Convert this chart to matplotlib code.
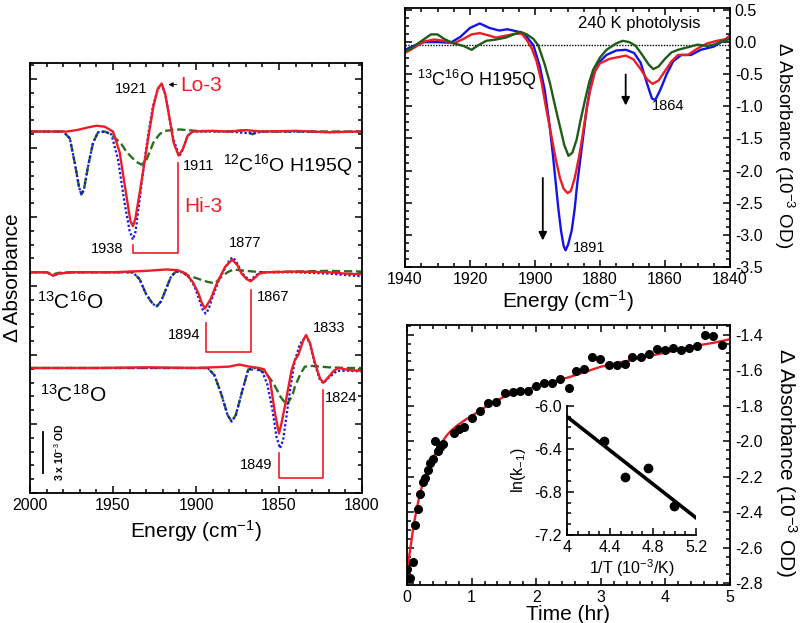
import matplotlib.pyplot as plt
from matplotlib.ticker import MultipleLocator, NullFormatter

plt.rcParams['font.family'] = ['Liberation Sans', 'DejaVu Sans']
plt.rcParams['mathtext.fontset'] = 'custom'
plt.rcParams['mathtext.rm'] = 'Liberation Sans'
plt.rcParams['mathtext.it'] = 'Liberation Sans:italic'
plt.rcParams['mathtext.bf'] = 'Liberation Sans:bold'
plt.rcParams['axes.unicode_minus'] = False
plt.rcParams['axes.linewidth'] = 1.3

RED = '#ee1c24'
BLUE = '#1414e6'
GREEN = '#2b6f1e'
DKGREEN = '#1f5c18'

# ---- left panel: FTIR difference spectra (10^-3 OD, relative to each baseline)
# 12C16O H195Q
e12_red = [2000, 1978, 1972, 1965, 1960, 1955, 1950, 1946, 1942, 1939.5, 1938, 1936.5, 1934, 1931.7,
           1928.7, 1925.7, 1923, 1920.7, 1918.5, 1916, 1913.5, 1910.5, 1908, 1905, 1902, 1890, 1880,
           1870, 1860, 1840, 1820, 1800]
a12_red = [0, 0, 0.1, 0.3, 0.42, 0.35, 0.0, -1.5, -4.6, -6.5, -6.86, -6.3, -4.5, -2.75,
           -0.4, 1.8, 3.1, 3.48, 2.7, 1.0, -0.8, -1.74, -1.3, -0.3, 0.0, 0.05, 0.0,
           0.1, 0.0, 0.05, -0.05, 0]
e12_blue = [2000, 1980, 1976, 1973, 1970.5, 1969, 1967.5, 1965, 1962, 1959, 1955, 1951, 1947, 1943,
            1940, 1938, 1936.5, 1934, 1931.5, 1928.5, 1926, 1923, 1920.7, 1918.5, 1916, 1913.5, 1910,
            1908, 1905, 1902, 1880, 1866, 1860, 1840, 1820, 1800]
a12_blue = [0, 0, -0.5, -2.3, -4.0, -4.57, -4.2, -2.5, -0.8, -0.05, 0, -0.2, -2.0, -5.2,
            -7.2, -7.83, -7.3, -5.0, -2.5, 0.0, 1.8, 3.1, 3.4, 2.7, 1.0, -0.6, -1.79,
            -1.3, -0.3, 0, 0, -0.15, 0, 0, -0.05, 0]
e12_green = [2000, 1980, 1976, 1973, 1970.5, 1969, 1967.5, 1965, 1962, 1959, 1955, 1951, 1945, 1941.7,
             1936, 1932.7, 1930, 1925.7, 1922, 1919, 1910, 1900, 1880, 1870, 1866, 1862, 1840, 1800]
a12_green = [0, 0, -0.5, -2.3, -4.0, -4.57, -4.2, -2.5, -0.8, -0.05, 0, -0.2, -0.9, -1.5,
             -2.2, -2.4, -2.1, -0.8, -0.2, 0.05, 0.15, 0.05, 0.0, 0.1, -0.2, 0, 0, 0]

# 13C16O
e13_red = [2000, 1990, 1986, 1983, 1975, 1950, 1930, 1918, 1911, 1906, 1902, 1898.6, 1896.6, 1894.6,
           1891, 1887.5, 1882.5, 1878.2, 1875, 1872.5, 1869.5, 1867, 1864.5, 1862, 1858, 1840, 1820,
           1810, 1800]
a13_red = [0, 0, -0.25, -0.1, 0, 0.0, 0.1, 0.2, 0.15, -0.1, -0.7, -1.5, -2.2, -2.63,
           -1.9, -0.82, 0.38, 0.92, 0.5, -0.1, -0.5, -0.65, -0.4, -0.1, 0, 0.05, 0.0,
           -0.1, -0.15]
e13_blue = [2000, 1990, 1986, 1983, 1975, 1945, 1938, 1934, 1930, 1926, 1923.5, 1921, 1918, 1915,
            1912, 1908, 1904, 1901, 1898, 1896, 1894.2, 1892.5, 1890, 1886, 1882, 1879.5, 1877.5,
            1875.5, 1872, 1869, 1867.5, 1865, 1861.5, 1840, 1820, 1810, 1800]
a13_blue = [0, 0, -0.25, -0.1, 0, 0, 0, -0.5, -1.6, -2.3, -2.46, -2.1, -1.2, -0.3,
            0.05, 0.0, -0.4, -1.0, -2.0, -2.7, -3.0, -2.7, -1.8, -0.5, 0.4, 0.95, 1.07,
            0.7, -0.1, -0.45, -0.58, -0.35, 0.0, 0.0, -0.1, -0.2, -0.3]
e13_green = [2000, 1990, 1986, 1983, 1975, 1945, 1938, 1934, 1930, 1926, 1923.5, 1921, 1918, 1915,
             1912, 1908, 1905.6, 1898, 1893, 1888.5, 1884.5, 1881, 1877.5, 1870, 1860, 1840, 1820, 1800]
a13_green = [0, 0, -0.15, -0.05, 0, 0, 0, -0.5, -1.6, -2.3, -2.46, -2.1, -1.2, -0.3,
             0.05, 0.0, -0.2, -0.5, -0.7, -0.8, -0.3, 0.0, 0.2, 0.1, 0.0, 0.05, 0.1, 0.05]

# 13C18O
e18_red = [2000, 1960, 1930, 1900, 1890, 1880, 1874, 1868, 1862, 1859, 1855.4, 1852.4, 1850,
           1848.5, 1846.5, 1845.4, 1842.4, 1840.4, 1838.4, 1835.4, 1833.7, 1831.3, 1828.3, 1825.3,
           1823.3, 1820.5, 1817, 1814, 1808, 1800]
a18_red = [0, 0, 0.05, 0.0, 0.05, 0.1, 0.25, 0.1, 0.0, -0.1, -0.87, -3.3, -4.74,
           -4.0, -2.8, -2.08, -0.15, 0.58, 0.94, 2.0, 2.39, 1.8, 0.34, -0.75,
           -1.07, -0.7, -0.2, 0.0, -0.15, -0.2]
e18_blue = [2000, 1960, 1900, 1893, 1889, 1885, 1881, 1878.5, 1876, 1872, 1868.5, 1864, 1860, 1857,
            1854, 1851.5, 1849.4, 1847.5, 1845.5, 1843, 1840.5, 1837.5, 1833.7, 1831.5, 1828.5,
            1825.5, 1823.3, 1820, 1815, 1808, 1800]
a18_blue = [0, 0, 0, 0.0, -0.5, -1.8, -3.4, -3.89, -3.4, -1.6, -0.1, 0.0, -0.3, -1.2,
            -3.0, -5.0, -5.82, -5.2, -3.5, -1.3, 0.5, 1.7, 2.32, 1.8, 0.3,
            -0.8, -1.11, -0.7, -0.2, -0.2, -0.25]
e18_green = [2000, 1960, 1900, 1893, 1889, 1885, 1881, 1878.5, 1876, 1872, 1868.5, 1861.4, 1857,
             1853.4, 1849, 1845.4, 1842, 1840.4, 1837, 1834.4, 1830, 1820, 1810, 1800]
a18_green = [0, 0, 0, 0, -0.5, -1.8, -3.4, -3.89, -3.4, -1.6, -0.1, -0.15, -0.5,
             -1.1, -2.1, -2.68, -2.0, -1.35, -0.4, 0.1, 0.15, 0.05, 0.0, 0.0]

# ---- top right: 240 K photolysis spectra (10^-3 OD)
e_blue = [1940, 1937, 1934, 1930, 1926, 1923, 1920, 1917, 1914, 1911, 1908.5, 1905, 1902.5, 1900.5,
          1898.5, 1897, 1895.5, 1894.5, 1893.6, 1892.8, 1892, 1891.2, 1890.6, 1889.8, 1888.7, 1887.8,
          1887, 1886, 1885, 1884, 1883, 1882, 1880, 1878, 1875, 1872, 1869.5, 1867.5, 1865.5, 1864,
          1863, 1861.5, 1859.5, 1857.5, 1855, 1852, 1849, 1845, 1842, 1840]
d_blue = [-0.12, -0.05, 0.0, 0.0, -0.01, 0.08, 0.22, 0.29, 0.22, 0.18, 0.2, 0.16, 0.08, -0.05,
          -0.38, -0.75, -1.3, -1.75, -2.2, -2.6, -2.93, -3.17, -3.24, -3.15, -2.93, -2.6,
          -2.2, -1.8, -1.4, -1.0, -0.7, -0.5, -0.3, -0.2, -0.13, -0.12, -0.17, -0.32, -0.65, -0.88,
          -0.9, -0.75, -0.5, -0.3, -0.2, -0.2, -0.12, -0.07, 0.02, 0.1]
e_red = [1940, 1937, 1934, 1931, 1928, 1925, 1922, 1919.5, 1917, 1914, 1912, 1909, 1906, 1904,
         1902.5, 1901, 1899.5, 1898, 1896.5, 1895, 1893.5, 1892.3, 1891.2, 1890, 1889, 1887.8, 1886.5,
         1885.5, 1884.3, 1883, 1881.5, 1880, 1877, 1874, 1872, 1869.7, 1867.5, 1865.5, 1863.8, 1862,
         1860, 1858, 1856, 1853, 1850, 1847, 1844, 1841, 1840]
d_red = [-0.17, -0.08, 0.01, 0.04, 0.02, -0.02, 0.05, 0.12, 0.14, 0.1, 0.07, 0.1, 0.13, 0.13,
         0.03, -0.1, -0.3, -0.62, -1.05, -1.45, -1.85, -2.12, -2.28, -2.35, -2.32, -2.12, -1.8,
         -1.5, -1.1, -0.75, -0.45, -0.33, -0.26, -0.23, -0.21, -0.27, -0.42, -0.58, -0.65, -0.6,
         -0.45, -0.3, -0.2, -0.2, -0.1, -0.02, 0.02, 0.05, 0.1]
e_green = [1940, 1938, 1936, 1934, 1932, 1930, 1928, 1925, 1922, 1919.5, 1917.5, 1915, 1912, 1909,
           1906.5, 1904.5, 1902.5, 1900.5, 1899, 1897, 1895.4, 1893.8, 1892.3, 1891, 1889.7, 1888.5,
           1887.2, 1886, 1884.6, 1883.3, 1882.1, 1880, 1878, 1875, 1873, 1871, 1869, 1867, 1865,
           1863.6, 1862, 1860, 1858, 1856, 1853, 1850, 1847, 1845, 1843, 1840]
d_green = [-0.14, -0.1, -0.02, 0.05, 0.12, 0.12, 0.05, -0.02, -0.06, -0.12, -0.05, 0.02, 0.04, 0.07,
           0.12, 0.16, 0.12, 0.05, -0.05, -0.35, -0.64, -1.0, -1.32, -1.6, -1.77, -1.72,
           -1.52, -1.22, -0.9, -0.62, -0.43, -0.24, -0.12, -0.02, 0.02, 0.0, -0.06, -0.2, -0.35,
           -0.42, -0.38, -0.26, -0.16, -0.12, -0.08, -0.04, -0.06, -0.04, 0.0, 0.05]

# ---- bottom right: recombination kinetics
time_hr = [0.0, 0.04, 0.087, 0.118, 0.165, 0.207, 0.249, 0.285, 0.32, 0.362, 0.398, 0.435, 0.476,
           0.518, 0.554, 0.725, 0.81, 0.88, 1.0, 1.13, 1.26, 1.384, 1.513, 1.64, 1.75, 1.87, 2.0,
           2.12, 2.25, 2.37, 2.50, 2.62, 2.74, 2.87, 2.99, 3.12, 3.25, 3.37, 3.49, 3.62, 3.75, 3.87,
           3.99, 4.12, 4.24, 4.37, 4.49, 4.62, 4.74, 4.87]
dabs = [-2.718, -2.769, -2.68, -2.473, -2.379, -2.298, -2.229, -2.206, -2.163, -2.121, -2.102,
        -1.999, -2.055, -2.035, -2.016, -1.955, -1.933, -1.918, -1.871, -1.828, -1.786, -1.779,
        -1.73, -1.72, -1.717, -1.717, -1.688, -1.669, -1.669, -1.649, -1.70, -1.604, -1.592,
        -1.528, -1.536, -1.57, -1.57, -1.566, -1.528, -1.528, -1.509, -1.481, -1.485, -1.477,
        -1.485, -1.472, -1.466, -1.402, -1.409, -1.457]
fit_t = [0.0, 0.02, 0.05, 0.1, 0.14, 0.18, 0.22, 0.26, 0.31, 0.36, 0.42, 0.47, 0.52, 0.57, 0.62,
         0.67, 0.73, 0.8, 0.9, 1.0, 1.12, 1.24, 1.37, 1.5, 1.63, 1.76, 2.0, 2.25, 2.5, 2.75, 3.0,
         3.25, 3.5, 3.75, 4.0, 4.25, 4.5, 4.75, 5.0]
fit_y = [-2.74, -2.68, -2.61, -2.48, -2.40, -2.33, -2.27, -2.22, -2.17, -2.12, -2.08, -2.05, -2.02,
         -1.99, -1.965, -1.945, -1.925, -1.905, -1.88, -1.857, -1.83, -1.80, -1.775, -1.75, -1.735,
         -1.72, -1.69, -1.665, -1.64, -1.61, -1.58, -1.56, -1.54, -1.52, -1.50, -1.48, -1.46,
         -1.445, -1.425]

# inset: Arrhenius plot
inv_T = [4.34, 4.54, 4.75, 4.995]
ln_k = [-6.33, -6.66, -6.58, -6.93]
arr_x = [4.0, 5.2]
arr_y = [-6.10, -7.04]

fig = plt.figure(figsize=(8, 6.23), dpi=100)


def ticks_in(ax):
    ax.tick_params(which='both', direction='in', top=True, right=True, width=1.1, labelsize=11.5)
    ax.tick_params(which='major', length=5)
    ax.tick_params(which='minor', length=2.8)


# ================= left panel
ax1 = fig.add_axes([0.0375, 0.2087, 0.415, 0.690])
stacks = [
    (26.2, e12_red, a12_red, e12_blue, a12_blue, e12_green, a12_green),
    (16.0, e13_red, a13_red, e13_blue, a13_blue, e13_green, a13_green),
    (9.06, e18_red, a18_red, e18_blue, a18_blue, e18_green, a18_green),
]
for base, er, ar, eb, ab, eg, ag in stacks:
    ax1.plot(eg, [base + v for v in ag], color=GREEN, ls=(0, (3.5, 1.6)), lw=1.7)
    ax1.plot(eb, [base + v for v in ab], color=BLUE, ls=(0, (1, 1)), lw=1.6)
    ax1.plot(er, [base + v for v in ar], color=RED, lw=1.7)

# red brackets
ax1.plot([1938, 1938, 1911, 1911], [17.97, 17.39, 17.39, 23.93], color=RED, lw=1.2)
ax1.plot([1894, 1894, 1866.9, 1866.9], [12.32, 10.22, 10.22, 14.7], color=RED, lw=1.2)
ax1.plot([1850, 1850, 1823.3, 1823.3], [2.9, 1.09, 1.09, 7.46], color=RED, lw=1.2)
# scale bar
ax1.plot([1992.2, 1992.2], [1.45, 4.42], color='black', lw=1.3)
ax1.text(1982.5, 2.95, '3 x 10$^{-3}$ OD', rotation=90, ha='center', va='center',
         fontsize=7.5, fontweight='bold')

ax1.text(1929.5, 29.3, '1921', ha='right', va='center', fontsize=10.5)
ax1.text(1909.6, 29.55, 'Lo-3', ha='left', va='center', fontsize=15, color=RED)
ax1.annotate('', xy=(1918.3, 29.6), xytext=(1910.0, 29.6),
             arrowprops=dict(arrowstyle='-|>', color='black', lw=0.6, mutation_scale=7))
ax1.text(1907.8, 23.7, '1911', ha='left', va='center', fontsize=10.5)
ax1.text(1906.8, 20.8, 'Hi-3', ha='left', va='center', fontsize=15, color=RED)
ax1.text(1944, 17.7, '1938', ha='right', va='center', fontsize=10.5)
ax1.text(1806, 23.8, '$^{12}$C$^{16}$O H195Q', ha='right', va='center', fontsize=14)
ax1.text(1870.2, 18.1, '1877', ha='center', va='center', fontsize=10.5)
ax1.text(1863.3, 14.2, '1867', ha='left', va='center', fontsize=10.5)
ax1.text(1897.6, 11.45, '1894', ha='right', va='center', fontsize=10.5)
ax1.text(1995.8, 13.86, '$^{13}$C$^{16}$O', ha='left', va='center', fontsize=15)
ax1.text(1829.5, 11.96, '1833', ha='left', va='center', fontsize=10.5)
ax1.text(1822.3, 6.88, '1824', ha='left', va='center', fontsize=10.5)
ax1.text(1854.2, 2.03, '1849', ha='right', va='center', fontsize=10.5)
ax1.text(1994, 7.1, '$^{13}$C$^{18}$O', ha='left', va='center', fontsize=15)

ax1.set_xlim(2000, 1800)
ax1.set_ylim(0, 31.16)
ax1.xaxis.set_major_locator(MultipleLocator(50))
ax1.xaxis.set_minor_locator(MultipleLocator(10))
ax1.yaxis.set_major_locator(MultipleLocator(5))
ax1.yaxis.set_minor_locator(MultipleLocator(1))
ax1.yaxis.set_major_formatter(NullFormatter())
ticks_in(ax1)
ax1.set_xlabel('Energy (cm$^{-1}$)', fontsize=15, labelpad=4)
ax1.set_ylabel('Δ Absorbance', fontsize=15)
ax1.yaxis.set_label_coords(-0.025, 0.5)

# ================= top right panel
ax2 = fig.add_axes([0.50625, 0.5714, 0.40625, 0.4157])
ax2.axhline(-0.05, color='black', ls=(0, (1, 1)), lw=1.0)
ax2.plot(e_blue, d_blue, color=BLUE, lw=1.7)
ax2.plot(e_red, d_red, color=RED, lw=1.7)
ax2.plot(e_green, d_green, color=DKGREEN, lw=1.7)
ax2.annotate('', xy=(1897.6, -3.13), xytext=(1897.6, -2.07),
             arrowprops=dict(arrowstyle='-|>', color='black', lw=1.3, mutation_scale=12))
ax2.annotate('', xy=(1872.1, -1.03), xytext=(1872.1, -0.46),
             arrowprops=dict(arrowstyle='-|>', color='black', lw=1.3, mutation_scale=12))
ax2.text(1864.0, -1.0, '1864', ha='left', va='center', fontsize=10.5)
ax2.text(1888.3, -3.21, '1891', ha='left', va='center', fontsize=10.5)
ax2.text(0.532, 0.942, '240 K photolysis', transform=ax2.transAxes, ha='left', va='center',
         fontsize=12)
ax2.text(0.037, 0.722, '$^{13}$C$^{16}$O H195Q', transform=ax2.transAxes, ha='left', va='center',
         fontsize=13)
ax2.set_xlim(1940, 1840)
ax2.set_ylim(-3.5, 0.53)
ax2.xaxis.set_major_locator(MultipleLocator(20))
ax2.xaxis.set_minor_locator(MultipleLocator(5))
ax2.yaxis.set_major_locator(MultipleLocator(0.5))
ax2.yaxis.set_minor_locator(MultipleLocator(0.125))
ticks_in(ax2)
ax2.tick_params(labelleft=False, labelright=True)
ax2.set_xlabel('Energy (cm$^{-1}$)', fontsize=15, labelpad=1)
ax2.yaxis.set_label_position('right')
ax2.set_ylabel('Δ Absorbance (10$^{-3}$ OD)', fontsize=13.5, rotation=-90, va='bottom')
ax2.yaxis.set_label_coords(1.128, 0.47)

# ================= bottom right panel
ax3 = fig.add_axes([0.50875, 0.061, 0.40375, 0.4173])
ax3.plot(fit_t, fit_y, color=RED, lw=1.7, zorder=2)
ax3.plot(time_hr, dabs, 'o', color='black', ms=5.5, zorder=3)
ax3.set_xlim(0, 5)
ax3.set_ylim(-2.81, -1.345)
ax3.xaxis.set_major_locator(MultipleLocator(1))
ax3.xaxis.set_minor_locator(MultipleLocator(0.2))
ax3.yaxis.set_major_locator(MultipleLocator(0.2))
ax3.yaxis.set_minor_locator(MultipleLocator(0.05))
ticks_in(ax3)
ax3.tick_params(labelleft=False, labelright=True)
ax3.set_xlabel('Time (hr)', fontsize=15, labelpad=0)
ax3.yaxis.set_label_position('right')
ax3.set_ylabel('Δ Absorbance (10$^{-3}$ OD)', fontsize=15, rotation=-90, va='bottom')
ax3.yaxis.set_label_coords(1.133, 0.47)

# ================= inset
ax4 = fig.add_axes([0.70875, 0.1413, 0.16125, 0.2071])
ax4.patch.set_alpha(0)
ax4.plot(arr_x, arr_y, color='black', lw=2.6)
ax4.plot(inv_T, ln_k, 'o', color='black', ms=6)
ax4.set_xlim(4, 5.2)
ax4.set_ylim(-7.2, -6.0)
ax4.spines['top'].set_visible(False)
ax4.spines['right'].set_visible(False)
ax4.xaxis.set_major_locator(MultipleLocator(0.4))
ax4.xaxis.set_minor_locator(MultipleLocator(0.1))
ax4.yaxis.set_major_locator(MultipleLocator(0.4))
ax4.yaxis.set_minor_locator(MultipleLocator(0.1))
ax4.tick_params(which='both', direction='in', labelsize=11.5, width=1.1)
ax4.tick_params(which='major', length=5)
ax4.tick_params(which='minor', length=2.8)
ax4.set_xticks([4, 4.4, 4.8, 5.2])
ax4.set_xticklabels(['4', '4.4', '4.8', '5.2'])
ax4.set_xlabel('1/T (10$^{-3}$/K)', fontsize=11.5, labelpad=2)
ax4.set_ylabel('ln(k$_{-1}$)', fontsize=11.5)
ax4.yaxis.set_label_coords(-0.30, 0.5)

fig.savefig('out.png', dpi=100)
